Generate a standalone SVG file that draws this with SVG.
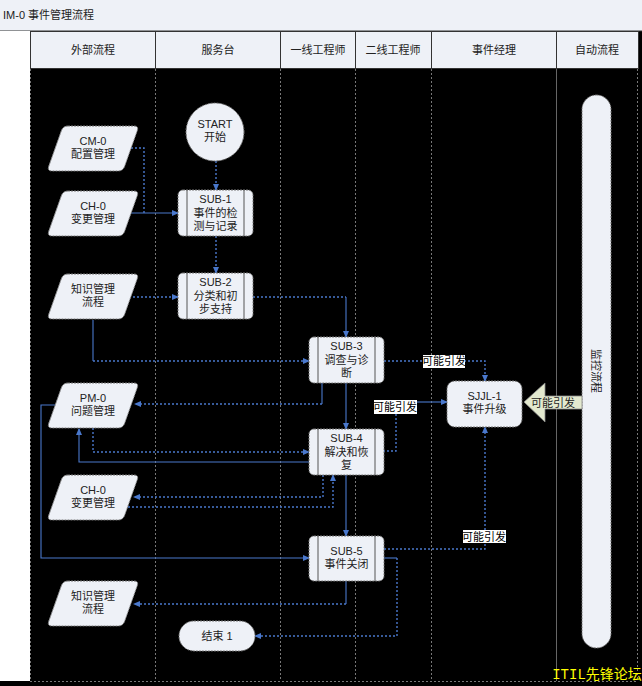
<svg xmlns="http://www.w3.org/2000/svg" width="642" height="686" viewBox="0 0 642 686">
<style>
text{font-family:"Liberation Sans","Noto Sans CJK SC",sans-serif;font-size:11px;fill:#222;text-anchor:middle}
.hd{fill:#eef1f7;stroke:#333;stroke-width:1}
.lane{stroke:#777;stroke-width:1;stroke-dasharray:2 2;fill:none}
.nd{fill:#eef1f7;stroke:#777;stroke-width:1;stroke-dasharray:2 1}
.in{stroke:#555;stroke-width:1}
.c{fill:none;stroke:#4a78cc;stroke-width:1.1}
.d{fill:none;stroke:#4a78cc;stroke-width:1.4;stroke-dasharray:2 2}
.a{marker-end:url(#ah)}
.lb{fill:#fff}
.lt{fill:#000;font-size:11px}
</style>
<defs>
<marker id="ah" markerWidth="7" markerHeight="6" refX="6" refY="3" orient="auto" markerUnits="userSpaceOnUse"><path d="M0,0 L7,3 L0,6 z" fill="#4a78cc"/></marker>
<path id="para" d="M21,0 L87,0 Q92,0 90.3,4.7 L77.7,40.3 Q76,45 71,45 L5,45 Q0,45 1.7,40.3 L14.3,4.7 Q16,0 21,0 Z"/>
</defs>
<rect x="0" y="0" width="642" height="686" fill="#000"/>
<rect x="0" y="0" width="642" height="31" fill="#eef1f7"/>
<line x1="0" y1="31" x2="642" y2="31" stroke="#333"/>
<text x="3" y="19" style="text-anchor:start">IM-0 事件管理流程</text>
<rect x="0" y="31" width="30" height="650" fill="#fff"/>
<g id="headers">
<rect class="hd" x="30.5" y="31.5" width="125" height="37"/>
<rect class="hd" x="155.5" y="31.5" width="125" height="37"/>
<rect class="hd" x="280.5" y="31.5" width="75" height="37"/>
<rect class="hd" x="355.5" y="31.5" width="76" height="37"/>
<rect class="hd" x="431.5" y="31.5" width="125" height="37"/>
<rect class="hd" x="556.5" y="31.5" width="82" height="37"/>
<text x="93" y="54">外部流程</text>
<text x="218" y="54">服务台</text>
<text x="318" y="54">一线工程师</text>
<text x="393" y="54">二线工程师</text>
<text x="494" y="54">事件经理</text>
<text x="597" y="54">自动流程</text>
</g>
<g id="lanes">
<line class="lane" x1="30.5" y1="69" x2="30.5" y2="681"/>
<line class="lane" x1="155.5" y1="69" x2="155.5" y2="681"/>
<line class="lane" x1="280.5" y1="69" x2="280.5" y2="681"/>
<line class="lane" x1="355.5" y1="69" x2="355.5" y2="681"/>
<line class="lane" x1="431.5" y1="69" x2="431.5" y2="681"/>
<line x1="556.5" y1="69" x2="556.5" y2="681" stroke="#666"/>
<line class="lane" x1="637.5" y1="69" x2="637.5" y2="681"/>
<line class="lane" x1="30" y1="681.5" x2="638" y2="681.5"/>
</g>
<g id="connectors">
<path class="d a" d="M216,161 V190"/>
<path class="d" d="M131,148 H144 V213"/>
<path class="c a" d="M130,213 H178"/>
<path class="d a" d="M216,236 V273"/>
<path class="d a" d="M133,297 H178"/>
<path class="d" d="M253,297 H346"/>
<path class="c a" d="M346,297 V337"/>
<path class="c" d="M93,320 V361"/>
<path class="d a" d="M93,361 H309"/>
<path class="d a" d="M384,361 H485 V381"/>
<path class="c" d="M322,383 V404"/>
<path class="d a" d="M322,404 H135"/>
<path class="c a" d="M346,383 V429"/>
<path class="d" d="M383,451 H396 V407"/>
<path class="c a" d="M416,402 H447"/>
<path class="d a" d="M93,428 V452 H309"/>
<path class="c a" d="M309,462 H79 V429"/>
<path class="d a" d="M323,475 V497 H134"/>
<path class="d a" d="M128,507 H333 V475"/>
<path class="c a" d="M346,475 V536"/>
<path class="c a" d="M55,405 H41 V558 H309"/>
<path class="d a" d="M384,549 H485 V427"/>
<path class="c" d="M384,558 H397"/>
<path class="d a" d="M397,558 V636 H255"/>
<path class="c" d="M346,581 V604"/>
<path class="d a" d="M346,604 H134"/>
<rect class="lb" x="423" y="355" width="42" height="13"/>
<text class="lt" x="444" y="365">可能引发</text>
<rect class="lb" x="374" y="400" width="43" height="14"/>
<text class="lt" x="395" y="411">可能引发</text>
<rect class="lb" x="463" y="530" width="43" height="13"/>
<text class="lt" x="484" y="541">可能引发</text>
</g>
<g id="start">
<circle class="nd" cx="215" cy="132" r="29"/>
<text x="215" y="128">START</text>
<text x="215" y="141">开始</text>
</g>
<g id="sub1">
<rect class="nd" x="178" y="190" width="75" height="46" rx="5"/>
<line class="in" x1="187" y1="190" x2="187" y2="236"/><line class="in" x1="244" y1="190" x2="244" y2="236"/>
<text x="215.5" y="203">SUB-1</text><text x="215.5" y="217">事件的检</text><text x="215.5" y="230">测与记录</text>
</g>
<g id="sub2">
<rect class="nd" x="178" y="273" width="75" height="46" rx="5"/>
<line class="in" x1="187" y1="273" x2="187" y2="319"/><line class="in" x1="244" y1="273" x2="244" y2="319"/>
<text x="215.5" y="286">SUB-2</text><text x="215.5" y="300">分类和初</text><text x="215.5" y="313">步支持</text>
</g>
<g id="sub3">
<rect class="nd" x="309" y="337" width="75" height="46" rx="5"/>
<line class="in" x1="318" y1="337" x2="318" y2="383"/><line class="in" x1="375" y1="337" x2="375" y2="383"/>
<text x="346.5" y="350">SUB-3</text><text x="346.5" y="364">调查与诊</text><text x="346.5" y="377">断</text>
</g>
<g id="sub4">
<rect class="nd" x="309" y="429" width="75" height="46" rx="5"/>
<line class="in" x1="318" y1="429" x2="318" y2="475"/><line class="in" x1="375" y1="429" x2="375" y2="475"/>
<text x="346.5" y="442">SUB-4</text><text x="346.5" y="456">解决和恢</text><text x="346.5" y="469">复</text>
</g>
<g id="sub5">
<rect class="nd" x="309" y="536" width="75" height="45" rx="5"/>
<line class="in" x1="318" y1="536" x2="318" y2="581"/><line class="in" x1="375" y1="536" x2="375" y2="581"/>
<text x="346.5" y="555">SUB-5</text><text x="346.5" y="568">事件关闭</text>
</g>
<g id="sjjl1">
<rect class="nd" x="447" y="381" width="75" height="46" rx="8"/>
<text x="484.5" y="400">SJJL-1</text><text x="484.5" y="413">事件升级</text>
</g>
<g id="end1">
<rect class="nd" x="179" y="621" width="76" height="30" rx="15"/>
<text x="217" y="640">结束 1</text>
</g>
<g id="cm0">
<use href="#para" class="nd" x="47" y="126"/>
<text x="93" y="145">CM-0</text><text x="93" y="158">配置管理</text>
</g>
<g id="ch0a">
<use href="#para" class="nd" x="47" y="191"/>
<text x="93" y="210">CH-0</text><text x="93" y="223">变更管理</text>
</g>
<g id="km-a">
<use href="#para" class="nd" x="47" y="274"/>
<text x="93" y="293">知识管理</text><text x="93" y="306">流程</text>
</g>
<g id="pm0">
<use href="#para" class="nd" x="47" y="383"/>
<text x="93" y="402">PM-0</text><text x="93" y="415">问题管理</text>
</g>
<g id="ch0b">
<use href="#para" class="nd" x="47" y="475"/>
<text x="93" y="494">CH-0</text><text x="93" y="507">变更管理</text>
</g>
<g id="km-b">
<use href="#para" class="nd" x="47" y="581"/>
<text x="93" y="600">知识管理</text><text x="93" y="613">流程</text>
</g>
<g id="monitor">
<rect class="nd" x="582" y="95" width="29" height="553" rx="14.5"/>
<text x="596" y="371" transform="rotate(90 596 371)" dy="4">监控流程</text>
</g>
<g id="trigger">
<polygon points="524,402 545,383 545,396 582,396 582,409 545,409 545,422" fill="#e3e9cf" stroke="#888" stroke-width="0.8"/>
<text x="553" y="407">可能引发</text>
</g>
<text x="597" y="679" style="fill:#ffff00;font-size:14px;font-family:'Liberation Mono','Noto Sans CJK SC',monospace">ITIL先锋论坛</text>
</svg>
